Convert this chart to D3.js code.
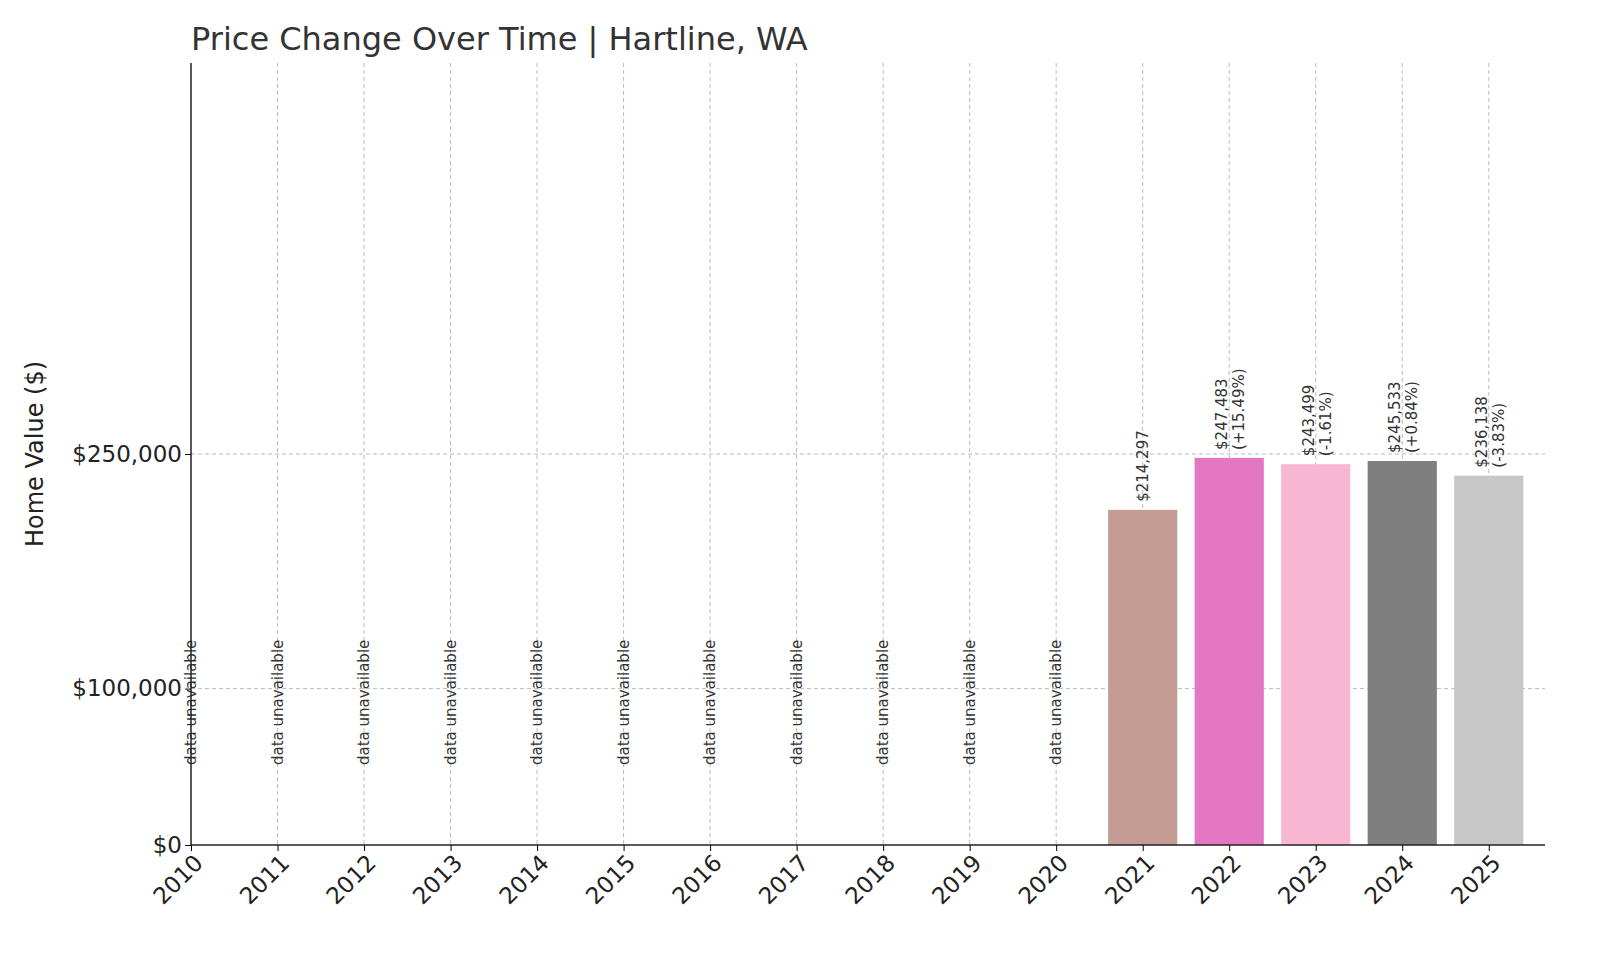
<!DOCTYPE html>
<html><head><meta charset="utf-8">
<script src="https://cdn.jsdelivr.net/npm/d3@7"></script>
<style>body{margin:0;background:#fff;font-family:"DejaVu Sans",sans-serif}</style>
</head><body><svg id="chart"></svg>
<script>
// Data
const years = [2010,2011,2012,2013,2014,2015,2016,2017,2018,2019,2020,2021,2022,2023,2024,2025];
const values = [null,null,null,null,null,null,null,null,null,null,null,214297,247483,243499,245533,236138];
const changes = [null,null,null,null,null,null,null,null,null,null,null,null,"+15.49%","-1.61%","+0.84%","-3.83%"];
const barColors = {2021:"#c49c94",2022:"#e377c2",2023:"#f7b6d2",2024:"#7f7f7f",2025:"#c7c7c7"};
const yTicks = [0,100000,250000];

const margin = {top:63, right:55, bottom:115, left:191};
const W = 1600, H = 960;
const width = W - margin.left - margin.right;
const height = H - margin.top - margin.bottom;

const svg = d3.select("#chart").attr("width",W).attr("height",H)
  .append("g").attr("transform",`translate(${margin.left},${margin.top})`);

const x = d3.scaleLinear().domain([2010, 2025.65]).range([0,width]);
const y = d3.scaleLinear().domain([0,500000]).range([height,0]);
const step = x(2011)-x(2010);

// Grid
svg.selectAll(".vgrid").data(years.slice(1)).enter().append("line")
  .attr("x1",d=>x(d)).attr("x2",d=>x(d)).attr("y1",0).attr("y2",height)
  .attr("stroke","#bbb").attr("stroke-dasharray","4,3").attr("stroke-width",1);
svg.selectAll(".hgrid").data(yTicks.slice(1)).enter().append("line")
  .attr("x1",0).attr("x2",width).attr("y1",d=>y(d)).attr("y2",d=>y(d))
  .attr("stroke","#bbb").attr("stroke-dasharray","4,3").attr("stroke-width",1);

const data = years.map((yr,i)=>({yr, v:values[i], c:changes[i]}));

// Bars
svg.selectAll(".bar").data(data.filter(d=>d.v!=null)).enter().append("rect")
  .attr("x",d=>x(d.yr)-step*0.4).attr("width",step*0.8)
  .attr("y",d=>y(d.v)).attr("height",d=>height-y(d.v))
  .attr("fill",d=>barColors[d.yr]);

// Labels
const fmt = d3.format(",");
data.forEach(d=>{
  if (d.v==null) {
    svg.append("text").attr("transform",`translate(${x(d.yr)+5},${height-80}) rotate(-90)`)
      .attr("font-size",15).attr("fill","#333").text("data unavailable");
  } else {
    const t = svg.append("text").attr("transform",`translate(${x(d.yr)},${y(d.v)-8}) rotate(-90)`)
      .attr("font-size",15).attr("fill","#333");
    if (d.c) {
      t.append("tspan").attr("x",0).attr("dy",-2).text("$"+fmt(d.v));
      t.append("tspan").attr("x",0).attr("dy",17).text("("+d.c+")");
    } else {
      t.append("tspan").attr("x",0).attr("dy",5).text("$"+fmt(d.v));
    }
  }
});

// Axes
const xAxis = svg.append("g").attr("transform",`translate(0,${height})`)
  .call(d3.axisBottom(x).tickValues(years).tickFormat(d3.format("d")).tickSize(6));
xAxis.attr("font-family",null);
xAxis.selectAll("text").attr("font-size",23).attr("fill","#222")
  .attr("text-anchor","end").attr("dx","-0.2em").attr("dy","0.6em")
  .attr("transform","rotate(-45)");
const yAxis = svg.append("g")
  .call(d3.axisLeft(y).tickValues(yTicks).tickFormat(d=>"$"+fmt(d)).tickSize(6));
yAxis.attr("font-family",null);
yAxis.selectAll("text").attr("font-size",23).attr("fill","#222");
svg.selectAll(".domain").attr("stroke","#222").attr("stroke-width",1.5);
xAxis.select(".domain").attr("d",`M0,0H${width}`);
yAxis.select(".domain").attr("d",`M0,${height}V0`);

svg.append("text").attr("transform",`translate(-148,${height/2}) rotate(-90)`)
  .attr("text-anchor","middle").attr("font-size",24).attr("fill","#222").text("Home Value ($)");
svg.append("text").attr("x",0).attr("y",-13).attr("font-size",32).attr("fill","#333")
  .text("Price Change Over Time | Hartline, WA");
</script></body></html>
